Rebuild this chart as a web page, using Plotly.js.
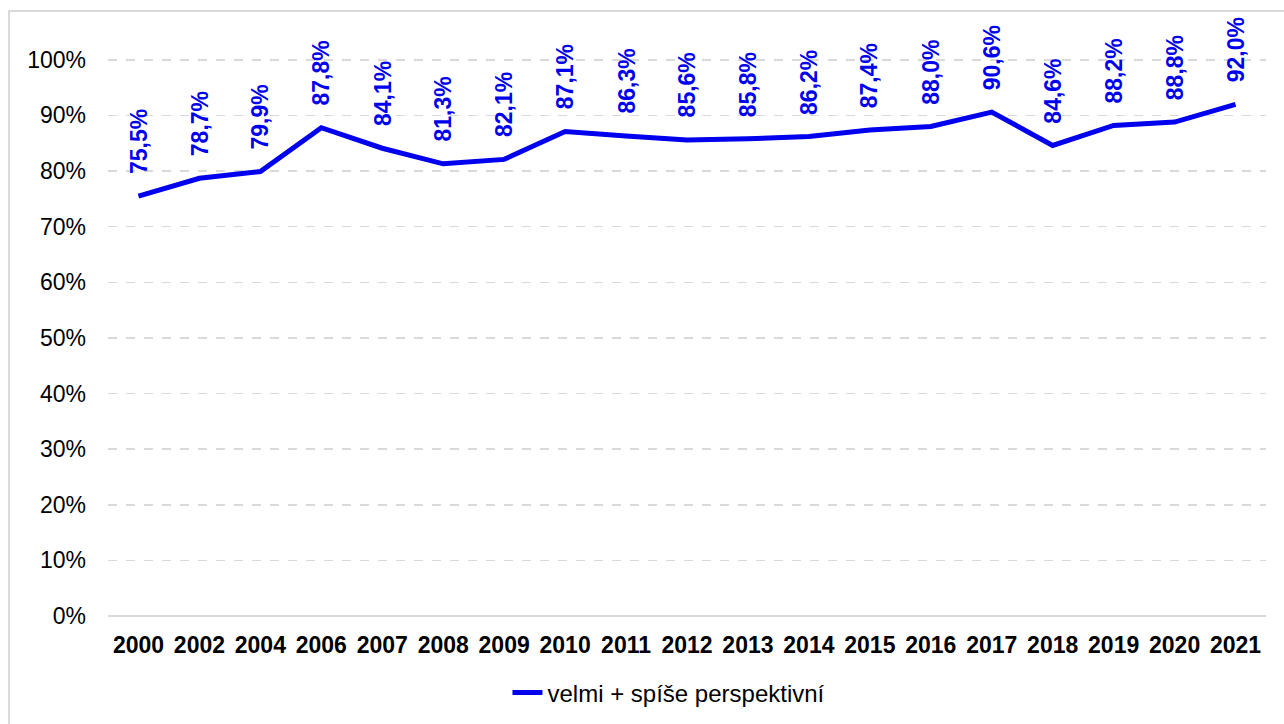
<!DOCTYPE html>
<html>
<head>
<meta charset="utf-8">
<script src="https://cdn.plot.ly/plotly-3.0.1.min.js"></script>
<style>
html,body{margin:0;padding:0;background:#fff;}
#chart{width:1284px;height:724px;}
</style>
</head>
<body>
<div id="chart"></div>
<script>
const years = ['2000','2002','2004','2006','2007','2008','2009','2010','2011','2012','2013','2014','2015','2016','2017','2018','2019','2020','2021'];
const values = [75.5,78.7,79.9,87.8,84.1,81.3,82.1,87.1,86.3,85.6,85.8,86.2,87.4,88.0,90.6,84.6,88.2,88.8,92.0];
const seriesName = 'velmi + spíše perspektivní';
const yTicks = [0,10,20,30,40,50,60,70,80,90,100];

const blue = '#0000ee';
const font = 'Liberation Sans, Arial, sans-serif';
const idx = years.map((_, i) => i);

const trace = {
  type: 'scatter',
  mode: 'lines',
  x: idx,
  y: values,
  name: seriesName,
  line: {color: blue, width: 5},
  cliponaxis: false
};

const annotations = idx.map(i => ({
  x: i,
  y: values[i],
  xref: 'x', yref: 'y',
  text: '<b>' + values[i].toFixed(1).replace('.', ',') + '%</b>',
  textangle: -90,
  showarrow: false,
  xanchor: 'center',
  yanchor: 'bottom',
  yshift: 20,
  font: {family: font, size: 23, color: blue}
}));

const layout = {
  width: 1284,
  height: 724,
  margin: {l: 108, r: 18, t: 32, b: 108},
  paper_bgcolor: '#fff',
  plot_bgcolor: '#fff',
  showlegend: true,
  legend: {
    orientation: 'h',
    xref: 'container', yref: 'container',
    x: 0.521, xanchor: 'center',
    y: 0.043, yanchor: 'middle',
    itemwidth: 30,
    font: {family: font, size: 24, color: '#000'}
  },
  xaxis: {
    range: [-0.5, years.length - 0.5],
    tickvals: idx,
    ticktext: years.map(y => '<b>' + y + '</b>'),
    showgrid: false,
    zeroline: false,
    showline: false,
    automargin: false,
    ticks: '',
    ticklabelstandoff: 13,
    tickfont: {family: font, size: 23, color: '#000'}
  },
  yaxis: {
    range: [0, 105],
    tickvals: yTicks,
    ticktext: yTicks.map(v => v + '%'),
    showgrid: true,
    gridcolor: '#d9d9d9',
    gridwidth: 1.5,
    griddash: 'dash',
    zeroline: true,
    zerolinecolor: '#d9d9d9',
    zerolinewidth: 2,
    showline: false,
    automargin: false,
    ticks: '',
    ticklabelstandoff: 21,
    tickfont: {family: font, size: 23, color: '#000'}
  },
  annotations: annotations,
  shapes: [{
    type: 'rect', xref: 'paper', yref: 'paper',
    x0: -0.0855, x1: 1.2, y0: -0.3, y1: 1.036,
    line: {color: '#d9d9d9', width: 2},
    fillcolor: 'rgba(0,0,0,0)',
    layer: 'below'
  }]
};

Plotly.newPlot('chart', [trace], layout, {displayModeBar: false, staticPlot: true});
</script>
</body>
</html>
